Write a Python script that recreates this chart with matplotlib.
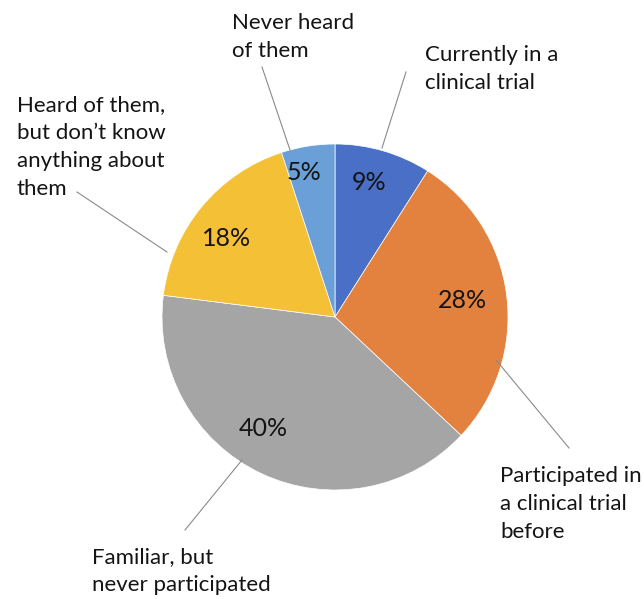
import matplotlib
matplotlib.use("Agg")
import matplotlib.pyplot as plt

labels = ["Currently in a\nclinical trial",
          "Participated in\na clinical trial\nbefore",
          "Familiar, but\nnever participated",
          "Heard of them,\nbut don\u2019t know\nanything about\nthem",
          "Never heard\nof them"]
shares = [9, 28, 40, 18, 5]
colors = ["#4A6FC6", "#E3823E", "#A5A5A5", "#F4C136", "#6B9FD8"]

H = 599
plt.rcParams["font.family"] = ["Lato", "DejaVu Sans"]

fig = plt.figure(figsize=(6.44, 5.99), dpi=100)
ax = fig.add_axes([0, 0, 1, 1])

cx, cy, r = 335, 317, 173
wedges, texts, pcts = ax.pie(shares, colors=colors, startangle=90, counterclock=False,
                             center=(cx, H - cy), radius=r, autopct="%d%%",
                             pctdistance=0.8, frame=True,
                             wedgeprops=dict(edgecolor="white", linewidth=0.5),
                             textprops=dict(fontsize=18, color="#141414"))
ax.set_xlim(0, 644)
ax.set_ylim(0, H)
ax.axis("off")

# percent labels, hand placed
pct_pos = [(369, 182), (462, 300), (263, 428), (227, 238), (304, 173)]
for t, (x, y) in zip(pcts, pct_pos):
    t.set_position((x, H - y))
    t.set_ha("center")
    t.set_va("center")

# outer labels: text top-left corner, leader start (near text), leader end (on pie)
label_pos = [(425, 45), (500, 466), (92, 547), (17, 95), (232, 13)]
leaders = [((406, 72), (382, 148)),
           ((569, 448), (496, 360)),
           ((185, 530), (242, 460)),
           ((77, 192), (167, 252)),
           ((262, 67), (290, 150))]
for lab, (x, y), (p0, p1) in zip(labels, label_pos, leaders):
    ax.text(x, H - y, lab, ha="left", va="top", fontsize=16,
            color="#141414", linespacing=1.5)
    ax.plot([p0[0], p1[0]], [H - p0[1], H - p1[1]], color="#8a8a8a", lw=0.8)

fig.savefig("out.png", dpi=100)
